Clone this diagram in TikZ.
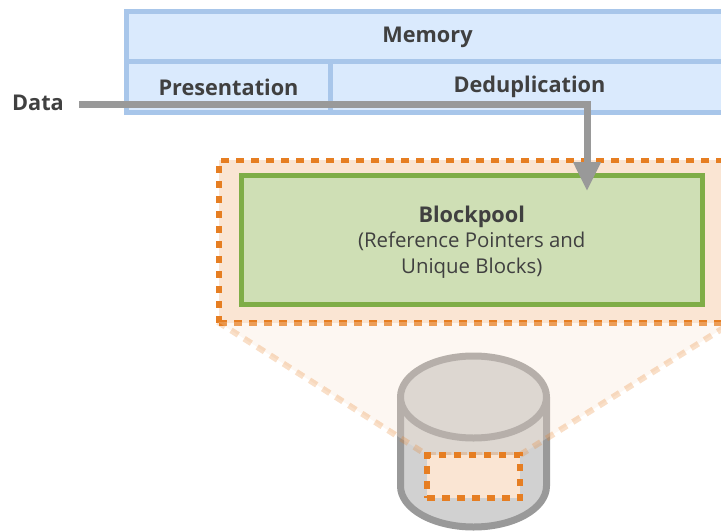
\documentclass[tikz,border=0pt]{standalone}
\usepackage{fontspec}
\setmainfont{Open Sans}
\usetikzlibrary{arrows.meta}

\definecolor{memfill}{HTML}{DAEAFD}
\definecolor{memline}{HTML}{A8C6EA}
\definecolor{poolfill}{HTML}{CFDFB5}
\definecolor{poolline}{HTML}{7FAD47}
\definecolor{zoomfill}{HTML}{FAE5D3}
\definecolor{zoomline}{HTML}{E67E22}
\definecolor{flowgray}{HTML}{999999}
\definecolor{textgray}{HTML}{404040}

\tikzset{
    membox/.style={draw=memline,fill=memfill,line width=5pt,inner sep=0pt,text=textgray,font=\bfseries\fontsize{21.7}{24}\selectfont},
    zoombox/.style={draw=zoomline,fill=zoomfill,line width=5.5pt,inner sep=0pt,dash pattern=on 7.5pt off 7.5pt},
    dataflow/.style={draw=flowgray,line width=7pt,-{Triangle[length=29pt,width=26pt]}}
}

\begin{document}
\begin{tikzpicture}[x=1pt,y=-1pt]
    \clip (0,0) rectangle (721,531);

    \node[membox,minimum width=602pt,minimum height=50.5pt] (memory) at (427.5,37) {\raisebox{-2pt}{Memory}};
    \node[membox,minimum width=204pt,minimum height=50.5pt] (presentation) at (228.5,87) {\raisebox{-.5pt}{Presentation}};
    \node[membox,minimum width=398pt,minimum height=50.5pt] (deduplication) at (529.5,87) {Deduplication};

    \node[zoombox,minimum width=516pt,minimum height=162.5pt] (zoomed) at (477,241.5) {};
    \node[draw=poolline,fill=poolfill,line width=5pt,minimum width=460.5pt,minimum height=129pt,inner sep=0pt,align=center,text=textgray,font=\fontsize{20.4}{25.5}\selectfont] (blockpool) at (471.75,240) {\rule{0pt}{20pt}{\fontsize{21.7}{25.5}\selectfont\textbf{Blockpool}}\\(Reference Pointers and\\Unique Blocks)};

    % disk, the zoom wedge goes over it
    \draw[draw=flowgray,fill=black!18,line width=7pt] (400.5,397) -- (400.5,486) arc[start angle=180,end angle=360,x radius=73pt,y radius=41pt] -- (546.5,397);
    \draw[draw=flowgray,fill=black!18,line width=7pt] (473.5,397) ellipse[x radius=73pt,y radius=41pt];
    \draw[draw=zoomline,draw opacity=.25,fill=zoomfill,fill opacity=.3,line width=6pt,dash pattern=on 8.5pt off 7pt] (218,322) -- (427,455) -- (520,455) -- (733,322);

    \node[zoombox,minimum width=93pt,minimum height=43pt] (slice) at (473.5,476.5) {};

    \node[text=textgray,font=\bfseries\fontsize{21.7}{24}\selectfont,inner sep=0pt] (data) at (38,102.5) {Data};
    \coordinate (flowstart) at (79,104);
    \coordinate (flowtip) at (587,191);
    \draw[dataflow] (flowstart) -| (flowtip);
\end{tikzpicture}
\end{document}
